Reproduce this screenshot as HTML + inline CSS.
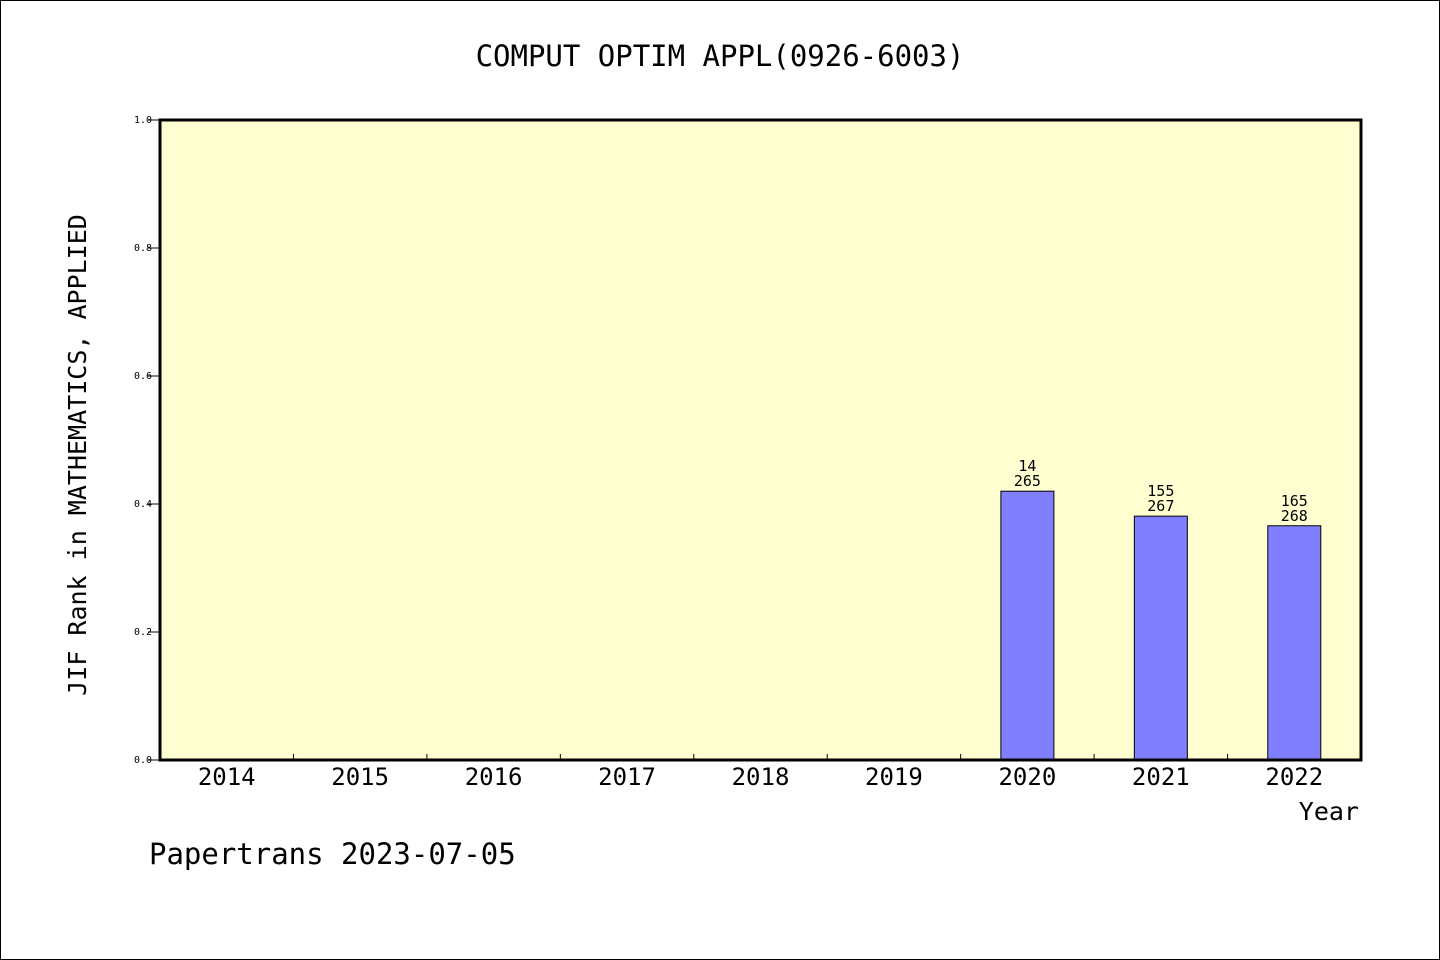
<!DOCTYPE html>
<html><head><meta charset="utf-8"><style>
body{margin:0;background:#fff}
svg{display:block}
text{font-family:"DejaVu Sans Mono","Liberation Mono",monospace;fill:#000}
</style></head><body>
<svg id="chart" width="1440" height="960">
<rect x="0.5" y="0.5" width="1439" height="959" fill="#fff" stroke="#000"/>
<text x="720" y="66" text-anchor="middle" font-size="29">COMPUT OPTIM APPL(0926-6003)</text>
<rect x="160" y="120" width="1201" height="640" fill="#ffffd2"/>
<g id="bars"></g>
<g id="yticks"></g>
<g id="xticks"></g>
<path d="M160 120 H1361 V760 H160 Z" fill="none" stroke="#000" stroke-width="3"/>
<text transform="translate(86,455) rotate(-90)" text-anchor="middle" font-size="25">JIF Rank in MATHEMATICS, APPLIED</text>
<text x="1359" y="820" text-anchor="end" font-size="25">Year</text>
<text x="149" y="864" font-size="29">Papertrans 2023-07-05</text>
</svg>
<script>
const categories=["2014","2015","2016","2017","2018","2019","2020","2021","2022"];
const values=[null,null,null,null,null,null,0.42,0.381,0.366];
const rankLabels=[null,null,null,null,null,null,"14","155","165"];
const totalLabels=[null,null,null,null,null,null,"265","267","268"];
const yTicks=[0,0.2,0.4,0.6,0.8,1.0];
const NS="http://www.w3.org/2000/svg";
const X0=160,X1=1361,Y0=760,Y1=120;
const bw=(X1-X0)/categories.length;
const x=i=>X0+bw*(i+0.5);
const y=v=>Y0-(Y0-Y1)*v;
function mk(t,a,p){const e=document.createElementNS(NS,t);for(const k in a)e.setAttribute(k,a[k]);p.appendChild(e);return e;}
const gb=document.getElementById('bars'),gy=document.getElementById('yticks'),gx=document.getElementById('xticks');
yTicks.forEach(v=>{
 const l=mk('line',{x1:148,x2:160,y1:y(v),y2:y(v),stroke:'#000','stroke-width':1},gy);
 
 
 const t=mk('text',{x:152,y:y(v)+3,'text-anchor':'end','font-size':10,'font-family':'Liberation Sans, sans-serif'},gy);
 t.textContent=v.toFixed(1);
 
 
});
categories.forEach((c,i)=>{
 if(i>0){const l=mk('line',{x1:X0+bw*i,x2:X0+bw*i,y1:Y0,y2:Y0-6,stroke:'#000','stroke-width':1},gx);
 
 }
 const t=mk('text',{x:x(i),y:785,'text-anchor':'middle','font-size':24},gx);
 t.textContent=c;
 
 
 const v=values[i];
 if(v!=null){
  const r=mk('rect',{x:x(i)-26.5,y:y(v),width:53,height:Y0-y(v),fill:'#8080ff',stroke:'#000','stroke-width':1},gb);
  
  
  const t1=mk('text',{x:x(i),y:y(v)-20,'text-anchor':'middle','font-size':15},gb);
  t1.textContent=rankLabels[i];
  
  
  const t2=mk('text',{x:x(i),y:y(v)-5,'text-anchor':'middle','font-size':15},gb);
  t2.textContent=totalLabels[i];
  
  
 }
});
</script>
</body></html>
